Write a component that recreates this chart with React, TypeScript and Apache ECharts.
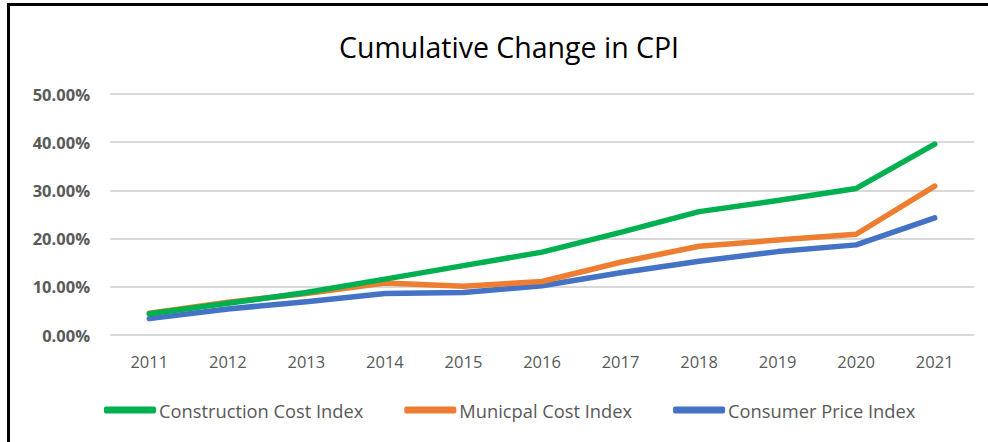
import React, { useEffect, useRef } from "react";
import * as echarts from "echarts";

const years = ["2011", "2012", "2013", "2014", "2015", "2016", "2017", "2018", "2019", "2020", "2021"];
const constructionCost = [4.4, 6.6, 8.8, 11.6, 14.4, 17.2, 21.3, 25.6, 27.9, 30.4, 39.6];
const municipalCost = [4.5, 6.8, 8.6, 10.8, 10.1, 11.1, 15.1, 18.4, 19.7, 20.9, 30.9];
const consumerPrice = [3.4, 5.4, 6.9, 8.6, 8.8, 10.2, 12.9, 15.3, 17.3, 18.7, 24.3];
const seriesNames = ["Construction Cost Index", "Municpal Cost Index", "Consumer Price Index"];
const colors = ["#00B050", "#ED7D31", "#4472C4"];

export default function App() {
  const ref = useRef<HTMLDivElement>(null);
  useEffect(() => {
    if (!ref.current) return;
    const chart = echarts.init(ref.current, null, { renderer: "svg" });
    const datasets = [constructionCost, municipalCost, consumerPrice];
    chart.setOption({
      animation: false,
      backgroundColor: "#ffffff",
      title: {
        text: "Cumulative Change in CPI",
        left: 334,
        top: 27,
        textStyle: { fontFamily: "Open Sans", fontSize: 28.5, fontWeight: "normal", color: "#000000" },
      },
      grid: { left: 110, right: 14, top: 94, bottom: 107, containLabel: false },
      xAxis: {
        type: "category",
        data: years,
        boundaryGap: true,
        axisLine: { show: false },
        axisTick: { show: false },
        axisLabel: { color: "#595959", fontFamily: "Open Sans", fontSize: 16.5, margin: 18 },
      },
      yAxis: {
        type: "value",
        min: 0,
        max: 50,
        interval: 10,
        axisLine: { show: false },
        axisTick: { show: false },
        splitLine: { lineStyle: { color: "#d9d9d9", width: 2 } },
        axisLabel: {
          color: "#595959",
          fontFamily: "Open Sans",
          fontWeight: "bold",
          fontSize: 16.5,
          margin: 20,
          formatter: (v: number) => v.toFixed(2) + "%",
        },
      },
      legend: {
        top: 396,
        left: 99,
        itemWidth: 52,
        itemHeight: 7,
        itemGap: 41,
        icon: "roundRect",
        textStyle: { color: "#595959", fontFamily: "Open Sans", fontSize: 18.3, padding: [0, 0, 0, -2] },
        data: seriesNames,
      },
      series: datasets.map((d, i) => ({
        name: seriesNames[i],
        type: "line",
        data: d,
        symbol: "none",
        lineStyle: { width: 5.5, color: colors[i], cap: "round", join: "round" },
        itemStyle: { color: colors[i] },
        z: 3 - i,
      })),
      graphic: [
        { type: "rect", shape: { x: 7, y: 3, width: 3, height: 439 }, style: { fill: "#000" } },
        { type: "rect", shape: { x: 7, y: 3, width: 981, height: 3 }, style: { fill: "#000" } },
      ],
    });
    return () => chart.dispose();
  }, []);
  return (
    <div style={{ position: "absolute", left: 0, top: 0, width: 988, height: 442 }}>
      <div ref={ref} style={{ width: 988, height: 442 }} />
    </div>
  );
}
